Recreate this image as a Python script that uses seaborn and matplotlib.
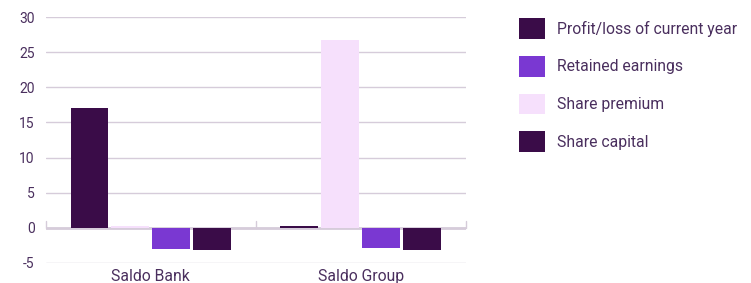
import matplotlib
matplotlib.use("Agg")
import matplotlib.pyplot as plt
import seaborn as sns
import pandas as pd
from matplotlib.patches import Patch

categories = ["Saldo Bank", "Saldo Group"]
series_order = ["Profit/loss of current year", "Share premium", "Retained earnings", "Share capital"]
legend_order = ["Profit/loss of current year", "Retained earnings", "Share premium", "Share capital"]
profit_loss = [17.0, 0.2]
share_premium = [0.2, 26.8]
retained_earnings = [-3.0, -2.9]
share_capital = [-3.2, -3.2]
yticks = [-5, 0, 5, 10, 15, 20, 25, 30]

colors = {
    "Profit/loss of current year": "#3a0c48",
    "Retained earnings": "#7a38d2",
    "Share premium": "#f6e0fc",
    "Share capital": "#3a0c48",
}

rows = []
for s, vals in zip(series_order, [profit_loss, share_premium, retained_earnings, share_capital]):
    for c, v in zip(categories, vals):
        rows.append({"category": c, "series": s, "value": v})
df = pd.DataFrame(rows)

sns.set_style("white")
plt.rcParams["font.family"] = ["Roboto", "DejaVu Sans"]
text_color = "#4a2f5e"

fig = plt.figure(figsize=(7.51, 2.83), dpi=100)
ax = fig.add_axes([0.061, 0.0707, 0.559, 0.869])

sns.barplot(data=df, x="category", y="value", hue="series", hue_order=series_order,
            order=categories, palette=colors, width=0.78, gap=0.08, saturation=1,
            linewidth=0, edgecolor="none", ax=ax, legend=False, zorder=3)

ax.set_xlim(-0.5, 1.5)
ax.set_ylim(-5, 30)
ax.set_yticks(yticks)
ax.set_yticklabels([str(t) for t in yticks], color=text_color, fontsize=10)
ax.yaxis.grid(True, color="#d6ccda", linewidth=1, zorder=0)
ax.set_axisbelow(True)
for sp in ax.spines.values():
    sp.set_visible(False)
ax.tick_params(axis="both", length=0, pad=8)
ax.tick_params(axis="x", pad=4)
ax.set_xlabel("")
ax.set_ylabel("")
for lbl in ax.get_xticklabels():
    lbl.set_color(text_color)
    lbl.set_fontsize(11.3)

ax.axhline(0, color="#d6ccda", linewidth=2, zorder=2)
for xb in [-0.5, 0.5, 1.5]:
    ax.plot([xb, xb], [0, 1.0], color="#d6ccda", linewidth=1, zorder=2, clip_on=False)

handles = [Patch(facecolor=colors[s], edgecolor="none") for s in legend_order]
fig.legend(handles, legend_order, loc="upper left", bbox_to_anchor=(0.691, 0.935),
           frameon=False, fontsize=11.3, labelcolor=text_color, borderpad=0, borderaxespad=0,
           handlelength=1.65, handleheight=1.65, labelspacing=1.08, handletextpad=0.8)

fig.savefig("out.png", dpi=100)
